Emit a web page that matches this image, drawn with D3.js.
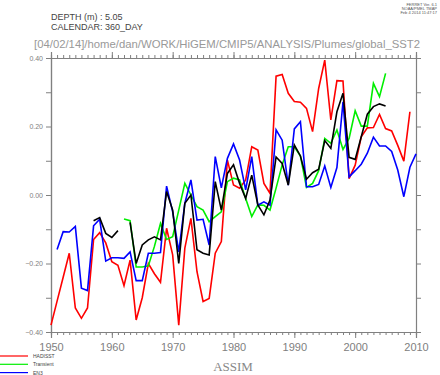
<!DOCTYPE html>
<html>
<head>
<meta charset="utf-8">
<script src="https://cdn.jsdelivr.net/npm/d3@7"></script>
<style>
  body { margin: 0; background: #fff; }
  svg { display: block; }
  text { font-family: "Liberation Sans", "DejaVu Sans", sans-serif; }
</style>
</head>
<body>
<div id="chart"></div>
<script>
// years 1950..2010, null = missing
const years = d3.range(1950, 2011);

const hadisst = [
  -0.38, -0.31, -0.24, -0.17, -0.33, -0.36, -0.33, -0.13, -0.11, -0.14,
  -0.195, -0.205, -0.265, -0.19, -0.365, -0.30, -0.20, -0.23, -0.255, -0.097,
  -0.175, -0.38, -0.155, -0.068, -0.224, -0.311, -0.302, -0.17, -0.136, 0.102,
  0.029, 0.02, 0.044, 0.141, 0.131, 0.034, 0.005, 0.347, 0.352, 0.297,
  0.273, 0.271, 0.253, 0.185, 0.311, 0.394, 0.219, 0.334, 0.333, 0.048,
  0.087, 0.17, 0.196, 0.197, 0.235, 0.194, 0.187, 0.145, 0.099, 0.243,
  null
];

const transient = [
  null, null, null, null, null, null, null, null, null, null,
  null, null, -0.07, -0.075, -0.21, -0.21, -0.207, -0.15, -0.083, -0.13,
  -0.122, -0.044, 0.034, 0.0, -0.034, -0.044, -0.078, -0.063, -0.049, 0.039,
  0.049, 0.044, -0.01, -0.063, -0.029, -0.03, -0.044, 0.02, 0.088, 0.141,
  0.141, 0.114, 0.022, 0.034, 0.071, 0.165, 0.151, 0.19, 0.133, 0.165,
  0.246, 0.201, 0.201, 0.326, 0.287, 0.355, null, null, null, null,
  null
];

const en3 = [
  null, -0.159, -0.107, -0.108, -0.092, -0.272, -0.279, -0.09, -0.071, -0.193,
  -0.183, -0.183, -0.185, -0.166, -0.25, -0.25, -0.17, -0.17, -0.168, 0.026,
  -0.049, -0.166, -0.024, 0.044, -0.073, -0.071, -0.146, 0.112, 0.021, 0.107,
  0.149, 0.102, 0.015, 0.112, -0.03, -0.02, -0.03, 0.19, 0.16, 0.029,
  0.193, 0.214, 0.024, 0.024, 0.031, 0.085, 0.022, 0.08, 0.272, 0.053,
  0.071, 0.09, 0.122, 0.169, 0.143, 0.143, 0.127, 0.073, -0.005, 0.081,
  0.12
];

// ensemble mean (black), gap in 1962
const mean = [
  null, null, null, null, null, null, null, -0.075, -0.066, -0.112,
  -0.124, -0.104, null, -0.08, -0.2, -0.146, -0.131, -0.122, -0.131, 0.01,
  -0.044, -0.2, -0.024, 0.0, -0.16, -0.17, -0.175, 0.039, -0.044, 0.063,
  0.088, 0.034, -0.01, 0.058, -0.029, -0.058, -0.015, 0.111, 0.092, 0.029,
  0.146, 0.114, 0.046, 0.065, 0.075, 0.159, 0.136, 0.243, 0.297, 0.11,
  0.104, 0.17, 0.236, 0.258, 0.266, 0.26, null, null, null, null,
  null
];

const series = [
  { name: "HADISST", values: hadisst, color: "#ff0000" },
  { name: "Transient", values: transient, color: "#00ee00" },
  { name: "EN3", values: en3, color: "#0000ff" },
  { name: "", values: mean, color: "#000000" }
];

const yTicks = [-0.4, -0.2, 0.0, 0.2, 0.4];
const yMinor = [-0.3, -0.1, 0.1, 0.3];
const xTicks = [1950, 1960, 1970, 1980, 1990, 2000, 2010];

const W = 440, H = 375;
const axisColor = "#808080";
const textColor = "#808080";

const svg = d3.select("#chart").append("svg")
  .attr("width", W)
  .attr("height", H);

const x = d3.scaleLinear().domain([1950, 2010]).range([51, 416]);
const y = d3.scaleLinear().domain([-0.4, 0.4]).range([332, 58]);

// header texts
const hdr = svg.append("g").style("fill", "#555");
hdr.append("text").attr("x", 437).attr("y", 6).attr("text-anchor", "end")
  .style("font-size", "4px").text("FERRET Ver. 6.1");
hdr.append("text").attr("x", 437).attr("y", 10).attr("text-anchor", "end")
  .style("font-size", "4px").text("NOAA/PMEL TMAP");
hdr.append("text").attr("x", 437).attr("y", 14).attr("text-anchor", "end")
  .style("font-size", "4px").text("Feb  4 2014 11:47:17");

svg.append("text").attr("x", 51).attr("y", 20)
  .style("font-size", "9px").style("fill", "#444").text("DEPTH (m) : 5.05");
svg.append("text").attr("x", 51).attr("y", 30)
  .style("font-size", "9px").style("fill", "#444").text("CALENDAR: 360_DAY");
svg.append("text").attr("x", 34).attr("y", 48)
  .attr("textLength", 386).attr("lengthAdjust", "spacingAndGlyphs")
  .style("font-size", "11px").style("fill", "#999")
  .text("[04/02/14]/home/dan/WORK/HiGEM/CMIP5/ANALYSIS/Plumes/global_SST2");

// axes
const axes = svg.append("g");
const gBottom = axes.append("g")
  .attr("transform", `translate(0,${y(-0.4)})`)
  .call(d3.axisBottom(x).tickValues(d3.range(1950, 2011)).tickSize(3).tickFormat(""));
const gBottomMajor = axes.append("g")
  .attr("transform", `translate(0,${y(-0.4)})`)
  .call(d3.axisBottom(x).tickValues(xTicks).tickSize(6).tickPadding(5).tickFormat(d3.format("d")));
const gTop = axes.append("g")
  .attr("transform", `translate(0,${y(0.4)})`)
  .call(d3.axisTop(x).tickValues(d3.range(1950, 2011)).tickSize(3).tickFormat(""));
const gTopMajor = axes.append("g")
  .attr("transform", `translate(0,${y(0.4)})`)
  .call(d3.axisTop(x).tickValues(xTicks).tickSize(6).tickFormat(""));
const gLeft = axes.append("g")
  .attr("transform", `translate(${x(1950)},0)`)
  .call(d3.axisLeft(y).tickValues(yTicks).tickSize(5).tickPadding(3)
    .tickFormat(d => d < 0 ? "\u2212" + d3.format(".2f")(-d) : d3.format(".2f")(d)));
const gLeftMinor = axes.append("g")
  .attr("transform", `translate(${x(1950)},0)`)
  .call(d3.axisLeft(y).tickValues(yMinor).tickSize(5).tickFormat(""));
const gRight = axes.append("g")
  .attr("transform", `translate(${x(2010)},0)`)
  .call(d3.axisRight(y).tickValues(yTicks.concat(yMinor)).tickSize(5).tickFormat(""));

axes.selectAll(".domain").attr("stroke", axisColor).attr("stroke-width", 1.2);
axes.selectAll(".tick line").attr("stroke", axisColor);
axes.selectAll(".tick text").style("fill", textColor).style("font-family", "Liberation Sans, sans-serif");
gBottomMajor.selectAll(".tick text").style("font-size", "11px");
gLeft.selectAll(".tick text").style("font-size", "7px");

// lines
const line = d3.line()
  .defined(d => d[1] !== null)
  .x(d => x(d[0]))
  .y(d => y(d[1]));

series.forEach(s => {
  svg.append("path")
    .datum(years.map((yr, i) => [yr, s.values[i]]))
    .attr("fill", "none")
    .attr("stroke", s.color)
    .attr("stroke-width", 1.6)
    .attr("stroke-linejoin", "miter")
    .attr("d", line);
});

// legend
const legend = svg.append("g");
series.slice(0, 3).forEach((s, i) => {
  const ly = 356 + i * 8.3;
  legend.append("line")
    .attr("x1", 0).attr("x2", 28)
    .attr("y1", ly).attr("y2", ly)
    .attr("stroke", s.color).attr("stroke-width", 1.2);
  legend.append("text")
    .attr("x", 33).attr("y", ly + 2)
    .style("font-size", "5px").style("fill", "#444")
    .text(s.name);
});

svg.append("text")
  .attr("x", 233).attr("y", 371)
  .attr("text-anchor", "middle")
  .style("font-family", "Liberation Serif, DejaVu Serif, serif")
  .style("font-size", "13px").style("fill", "#888")
  .text("ASSIM");
</script>
</body>
</html>
